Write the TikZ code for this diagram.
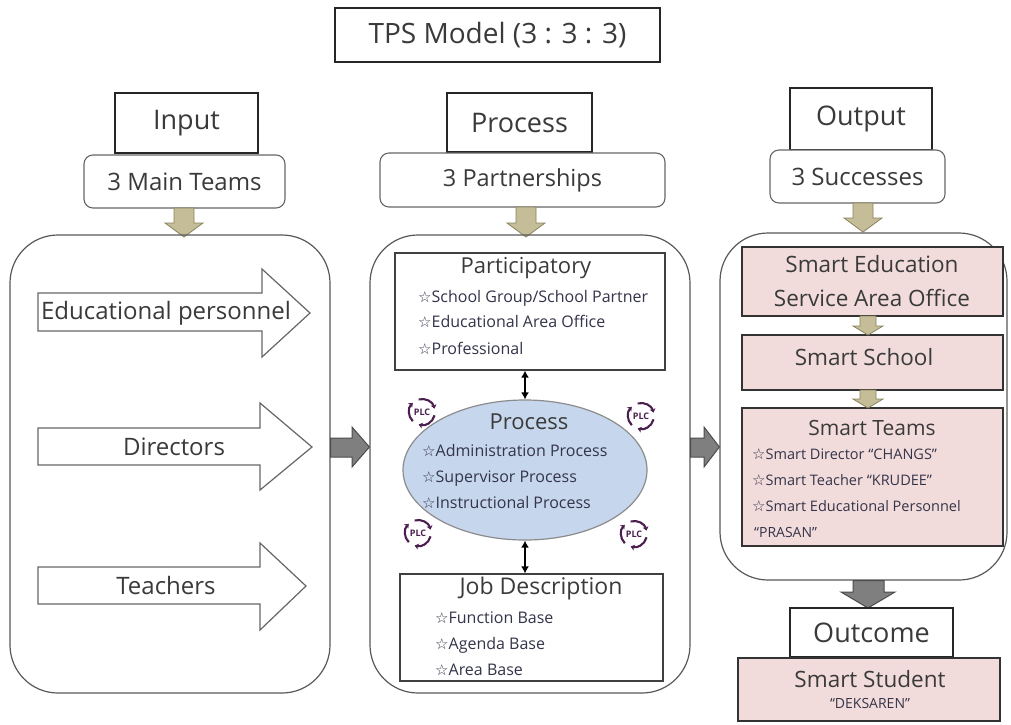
\documentclass[tikz,border=0pt]{standalone}
\usepackage{fontspec}
\setmainfont{Open Sans}
\newfontfamily\symf{DejaVu Sans}
\usetikzlibrary{shapes.geometric,arrows.meta}
\definecolor{txt}{HTML}{3A3A3A}
\definecolor{itemc}{HTML}{34344A}
\definecolor{pinkc}{HTML}{F2DCDB}
\definecolor{bluec}{HTML}{C6D6EC}
\definecolor{tanc}{HTML}{C4BD97}
\definecolor{tanline}{HTML}{8A8360}
\definecolor{grayarr}{HTML}{7F7F7F}
\definecolor{plcc}{HTML}{4A1E4E}
\newcommand\mystar{{\symf\fontsize{15}{15}\selectfont\char"2606}}
\newcommand\fs[1]{\fontsize{#1}{#1}\selectfont}
\tikzset{
  thickbox/.style={draw=black!85, line width=2.2pt, fill=white, inner sep=0},
  roundlab/.style={draw=black!60, line width=1.1pt, rounded corners=9pt, fill=white, inner sep=0},
  bigbox/.style={draw=black!65, line width=1.2pt, rounded corners=48pt, inner sep=0},
  plainbox/.style={draw=black!75, line width=1.2pt, fill=white, inner sep=0},
  pinkbox/.style={draw=black!80, line width=1.3pt, fill=pinkc, inner sep=0},
  tanarrow/.style={fill=tanc, draw=tanline, line width=0.8pt},
  grayarrow/.style={fill=grayarr, draw=black!70, line width=1pt},
  whitearrow/.style={fill=white, draw=black!60, line width=1.2pt},
  dbl/.style={{Latex[length=7pt,width=8pt]}-{Latex[length=7pt,width=8pt]}, line width=1.6pt, black},
  item/.style={anchor=base west, text=itemc, font=\fs{16}},
  plcarc/.style={draw=plcc, line width=2.1pt, -{Stealth[length=4pt,width=6pt]}},
}
\newcommand\tandown[6]{% cx, ytop, ybot, headw, bodyw, headh
  \draw[tanarrow] ({#1-#5/2},#2) -- ({#1+#5/2},#2) -- ({#1+#5/2},{#3-#6}) -- ({#1+#4/2},{#3-#6})
    -- (#1,#3) -- ({#1-#4/2},{#3-#6}) -- ({#1-#5/2},{#3-#6}) -- cycle;}
\newcommand\plc[2]{%
  \begin{scope}[shift={(#1,#2)}]
    \draw[plcarc] (15:13) arc[start angle=15, end angle=105, radius=13];
    \draw[plcarc] (135:13) arc[start angle=135, end angle=225, radius=13];
    \draw[plcarc] (255:13) arc[start angle=255, end angle=345, radius=13];
    \node[text=plcc, font=\fs{9}\bfseries] at (0,0) {PLC};
  \end{scope}}
\begin{document}
\begin{tikzpicture}[x=1pt,y=-1pt, every node/.style={text=txt, inner sep=0}]
\useasboundingbox (0,0) rectangle (1011,724);
\fill[white] (0,0) rectangle (1011,724);

% title
\node[thickbox, minimum width=325pt, minimum height=54pt, font=\fs{28}] (title) at (497.5,35) {TPS Model (3 : 3 : 3)};

% headers
\node[thickbox, minimum width=143pt, minimum height=60pt, font=\fs{27}] (input) at (186.5,123) {Input};
\node[roundlab, minimum width=201pt, minimum height=53pt, font=\fs{24}] (teams) at (184.5,181.5) {3 Main Teams};
\node[thickbox, minimum width=145pt, minimum height=59pt, font=\fs{27}] (process) at (519.5,122.5) {Process};
\node[roundlab, minimum width=285pt, minimum height=54pt, font=\fs{23.5}] (partner) at (522.5,180) {3 Partnerships};
\node[thickbox, minimum width=142pt, minimum height=62pt, font=\fs{27}] (output) at (861,119) {Output};
\node[roundlab, minimum width=175pt, minimum height=53pt, font=\fs{24}] (success) at (857.5,176.5) {3 Successes};

\tandown{184}{208}{237}{38}{20}{14}
\tandown{526}{207}{237}{38}{20}{14}
\tandown{863}{203}{232}{38}{20}{14}

% big boxes
\node[bigbox, minimum width=320pt, minimum height=458pt] (inbox) at (170,464) {};
\node[bigbox, minimum width=320pt, minimum height=458pt] (midbox) at (530,464) {};
\node[bigbox, minimum width=287pt, minimum height=347pt] (outbox) at (863.5,406.5) {};

% input arrows
\draw[whitearrow] (38,293) -- (262,293) -- (262,269) -- (310,313) -- (262,357) -- (262,331) -- (38,331) -- cycle;
\node[font=\fs{24}] (edu) at (166,313) {Educational personnel};
\draw[whitearrow] (38,428) -- (260,428) -- (260,403) -- (312,447) -- (260,490) -- (260,465) -- (38,465) -- cycle;
\node[font=\fs{24}] (dir) at (174,447) {Directors};
\draw[whitearrow] (38,567) -- (260,567) -- (260,543) -- (306,586) -- (260,630) -- (260,604) -- (38,604) -- cycle;
\node[font=\fs{24}] (tea) at (166,585) {Teachers};

% gray arrows between boxes
\draw[grayarrow] (inbox.east |- 0,438) -- (352,438) -- (352,427) -- (midbox.west |- 0,447) -- (352,467) -- (352,457) -- (inbox.east |- 0,457) -- cycle;
\draw[grayarrow] (midbox.east |- 0,438) -- (704,438) -- (704,427) -- (outbox.west |- 0,447) -- (704,467) -- (704,457) -- (midbox.east |- 0,457) -- cycle;

% participatory
\node[plainbox, minimum width=270pt, minimum height=117pt] (part) at (530,311.5) {};
\node[font=\fs{22}] (partt) at (526,268) {Participatory};
\node[item] (p1) at (418,302) {\mystar School Group/School Partner};
\node[item] (p2) at (418,327) {\mystar Educational Area Office};
\node[item] (p3) at (418,354) {\mystar Professional};

% process ellipse
\node[ellipse, draw=black!45, line width=1.2pt, fill=bluec, minimum width=244pt, minimum height=140pt] (proc) at (525,470) {};
\node[font=\fs{22}] (proct) at (529,422) {Process};
\node[item] (q1) at (422,456) {\mystar Administration Process};
\node[item] (q2) at (422,482) {\mystar Supervisor Process};
\node[item] (q3) at (422,508) {\mystar Instructional Process};

% job description
\node[plainbox, minimum width=263pt, minimum height=107pt] (job) at (531.5,627.5) {};
\node[font=\fs{23}] (jobt) at (541,589) {Job Description};
\node[item] (j1) at (435,623) {\mystar Function Base};
\node[item] (j2) at (435,649) {\mystar Agenda Base};
\node[item] (j3) at (435,675) {\mystar Area Base};

\draw[dbl] (part.south -| proc.north) -- (proc.north);
\draw[dbl] (proc.south) -- (job.north -| proc.south);

% PLC icons
\plc{422}{412}
\plc{641}{416}
\plc{418}{533}
\plc{634}{534}

% output column
\node[pinkbox, minimum width=261pt, minimum height=69pt] (sea) at (872.5,281.5) {};
\node[font=\fs{22.5}] at (872,264) {Smart Education};
\node[font=\fs{22.5}] at (872,298) {Service Area Office};
\node[pinkbox, minimum width=261pt, minimum height=55pt] (school) at (872.5,362.5) {};
\node[font=\fs{22.5}] at (864,357) {Smart School};
\node[pinkbox, minimum width=261pt, minimum height=138pt] (steams) at (872.5,477) {};
\node[font=\fs{21}] at (872,428) {Smart Teams};
\node[item, font=\fs{14.5}] (s1) at (752,459) {\mystar Smart Director “CHANGS”};
\node[item, font=\fs{14.5}] (s2) at (752,485) {\mystar Smart Teacher “KRUDEE”};
\node[item, font=\fs{14.5}] (s3) at (752,511) {\mystar Smart Educational Personnel};
\node[item, font=\fs{14}] (s4) at (754,537) {“PRASAN”};
\tandown{868}{316}{335}{30}{16}{9}
\tandown{868}{390}{408}{30}{16}{9}

% outcome
\draw[grayarrow] (outbox.south -| 853,0) -- (outbox.south -| 884,0) -- (884,592) -- (895,592) -- (868,608) -- (841,592) -- (853,592) -- cycle;
\node[thickbox, minimum width=163pt, minimum height=49pt, font=\fs{27}] (outcome) at (871.5,632.5) {Outcome};
\node[pinkbox, line width=2.2pt, minimum width=262pt, minimum height=63pt] (student) at (869,689.5) {};
\node[font=\fs{22.5}] at (870,679) {Smart Student};
\node[font=\fs{14}, text=itemc] at (870,703) {“DEKSAREN”};
\end{tikzpicture}
\end{document}
